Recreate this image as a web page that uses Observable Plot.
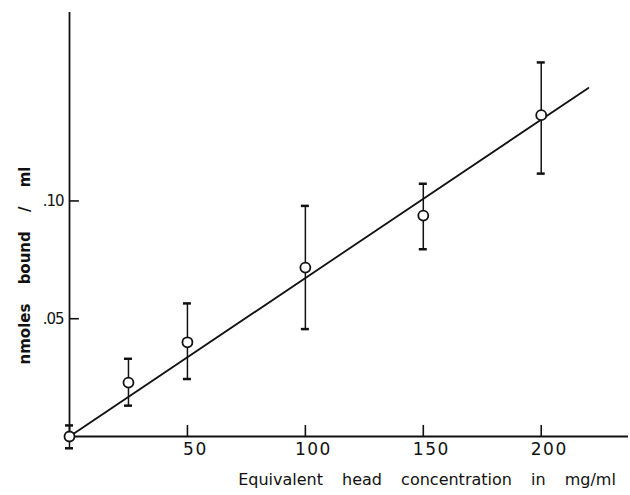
<!DOCTYPE html>
<html><head><meta charset="utf-8">
<script src="https://cdn.jsdelivr.net/npm/d3@7"></script>
<script src="https://cdn.jsdelivr.net/npm/@observablehq/plot@0.6"></script>
<style>
body{margin:0;background:#fff}
svg{display:block}
svg text{word-spacing:14px}
g[aria-label="x-axis tick label"] text{letter-spacing:1.5px}
g[aria-label="y-axis tick label"] text{letter-spacing:-1px}
</style>
</head><body><div id="chart"></div>
<script>
const conc = [0, 25, 50, 100, 150, 200];
const bound = [0, 0.0229, 0.040, 0.0717, 0.0938, 0.1364];
const errLow = [-0.005, 0.0131, 0.0244, 0.0456, 0.0795, 0.1116];
const errHigh = [0.0047, 0.033, 0.0565, 0.0979, 0.1073, 0.1588];
const fitX = [0, 220];
const fitY = [0, 0.148];
const xTicks = [50, 100, 150, 200];
const yTicks = [0.05, 0.10];
const yTickLabels = [".05", ".10"];
const xTitle = "Equivalent head concentration in mg/ml";
const yTitle = "nmoles bound / ml";

const points = conc.map((x, i) => ({x, y: bound[i], lo: errLow[i], hi: errHigh[i]}));
const fit = fitX.map((x, i) => ({x, y: fitY[i]}));
const ink = "#111";
// inward tick lengths expressed in data units (~11px and ~10px)
const xTickLen = 0.0047;
const yTickLen = 4.2;

const chart = Plot.plot({
  width: 630, height: 495,
  marginLeft: 69, marginRight: 2, marginTop: 12, marginBottom: 59,
  x: {domain: [0, 237]},
  y: {domain: [0, 0.18]},
  style: {fontFamily: "DejaVu Sans", background: "white", color: ink},
  marks: [
    Plot.ruleY([0], {stroke: ink, strokeWidth: 1.8}),
    Plot.ruleX([0], {stroke: ink, strokeWidth: 1.8}),
    Plot.ruleX(xTicks, {x: d => d, y1: 0, y2: xTickLen, stroke: ink, strokeWidth: 1.6}),
    Plot.ruleY(yTicks, {y: d => d, x1: 0, x2: yTickLen, stroke: ink, strokeWidth: 1.6}),
    Plot.axisX(xTicks, {tickSize: 0, tickPadding: 6, dx: 8, label: null, fontSize: 17, tickFormat: d => String(d)}),
    Plot.axisY(yTicks, {tickSize: 0, tickPadding: 6, label: null, fontSize: 15, tickFormat: d => yTickLabels[yTicks.indexOf(d)]}),
    Plot.ruleX(points, {x: "x", y1: "lo", y2: "hi", stroke: ink, strokeWidth: 1.5}),
    Plot.ruleY(points, {x1: "x", x2: "x", y: "hi", insetLeft: -4, insetRight: -4, stroke: ink, strokeWidth: 2.5}),
    Plot.ruleY(points, {x1: "x", x2: "x", y: "lo", insetLeft: -4, insetRight: -4, stroke: ink, strokeWidth: 2.5}),
    Plot.line(fit, {x: "x", y: "y", stroke: ink, strokeWidth: 1.8}),
    Plot.dot(points, {x: "x", y: "y", r: 5, fill: "white", stroke: ink, strokeWidth: 1.8}),
    Plot.text([xTitle], {frameAnchor: "bottom", dx: 78, dy: 48, fontSize: 16, fill: ink}),
    Plot.text([yTitle], {frameAnchor: "left", textAnchor: "middle", rotate: -90, dx: -44, dy: 41, fontSize: 15, fontWeight: "bold", fill: ink})
  ]
});
document.getElementById("chart").append(chart);
</script>
</body></html>
